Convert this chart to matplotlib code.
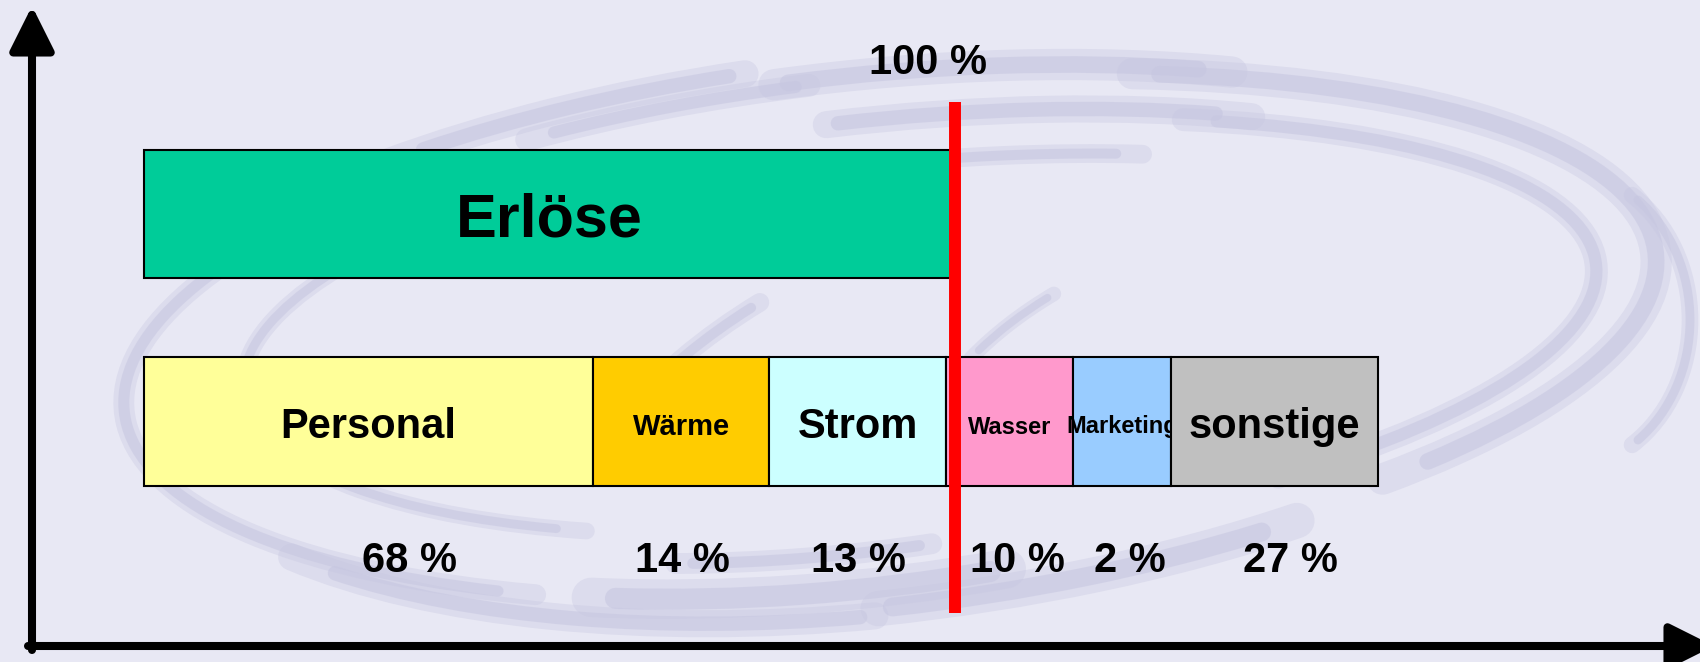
import matplotlib
matplotlib.use('Agg')
import matplotlib.pyplot as plt
from matplotlib.patches import Arc

revenue_label = 'Erlöse'
revenue_value = 100

cost_labels = ['Personal', 'Wärme', 'Strom', 'Wasser', 'Marketing', 'sonstige']
cost_widths = [55.4, 21.7, 21.8, 15.7, 12.0, 25.5]
cost_shares = ['68 %', '14 %', '13 %', '10 %', '2 %', '27 %']

# Layout / Stil
cost_colors = ['#FFFF99', '#FFCC00', '#CCFFFF', '#FF99CC', '#99CCFF', '#C0C0C0']
label_sizes = [30, 21, 30, 17, 17, 30]
share_dx = [41, 1, 1, 8, 8, 16]  # pixel shift of the % labels

FONT = 'Liberation Sans'
BG = '#E8E8F4'
SWIRL = '#C6C6E0'

W, H = 1700, 662
PX_PER_PCT = 8.11
X0 = 144  # pixel position of 0 %

fig = plt.figure(figsize=(W / 100, H / 100), dpi=100)
fig.patch.set_facecolor(BG)

# background layer in pixel coords (swirl + axis arrows)
bg = fig.add_axes([0, 0, 1, 1])
bg.set_xlim(0, W)
bg.set_ylim(H, 0)
bg.axis('off')

swirls = [
    # (cx, cy, w, h, angle, theta1, theta2, lw)
    (870, 330, 1560, 540, -6, 205, 250, 13),
    (870, 330, 1480, 500, -6, 215, 262, 11),
    (870, 335, 1520, 520, -6, 255, 330, 15),
    (880, 340, 1420, 440, -6, 262, 335, 13),
    (880, 345, 1300, 360, -6, 268, 330, 9),
    (880, 335, 1560, 500, -6, 320, 382, 15),
    (880, 340, 1440, 420, -6, 330, 385, 11),
    (850, 340, 1560, 540, -6, 28, 90, 17),
    (840, 340, 1400, 500, -6, 60, 140, 19),
    (830, 335, 1260, 440, -6, 70, 130, 10),
    (870, 335, 1460, 560, -6, 95, 165, 13),
    (900, 330, 1560, 520, -6, 150, 205, 10),
    (870, 325, 1260, 400, -6, 150, 200, 8),
    (1560, 320, 260, 300, 0, 300, 420, 8),
    (900, 420, 700, 340, -25, 205, 245, 9),
    (1150, 390, 500, 260, -25, 215, 250, 7),
]
for cx, cy, w, h, ang, t1, t2, lw in swirls:
    bg.add_patch(Arc((cx, cy), w, h, angle=ang, theta1=t1, theta2=t2,
                     color=SWIRL, lw=lw * 1.5, alpha=0.35, capstyle='round'))
    bg.add_patch(Arc((cx, cy), w, h, angle=ang, theta1=t1 + 3, theta2=t2 - 3,
                     color=SWIRL, lw=lw * 0.8, alpha=0.55, capstyle='round'))

arrow = dict(arrowstyle='-|>,head_length=1.0,head_width=0.5', mutation_scale=27,
             color='black', lw=5.8, shrinkA=0, shrinkB=0)
bg.annotate('', xy=(32, 6), xytext=(32, 650), arrowprops=arrow, annotation_clip=False)
bg.annotate('', xy=(1714, 646), xytext=(28, 646), arrowprops=arrow, annotation_clip=False)

# data layer: x in percent of revenue, y in pixel rows
ax = fig.add_axes([0, 0, 1, 1])
ax.set_xlim(-X0 / PX_PER_PCT, (W - X0) / PX_PER_PCT)
ax.set_ylim(H, 0)
ax.axis('off')
ax.patch.set_alpha(0)

ax.barh(214, revenue_value, left=0, height=128, color='#00CC99',
        edgecolor='black', linewidth=1.5, zorder=2)
ax.text(revenue_value / 2, 221, revenue_label, ha='center', va='center',
        fontsize=44, fontweight='bold', family=FONT, zorder=3)

left = 0
for i, (lab, wd, share, col, fs, dx) in enumerate(zip(cost_labels, cost_widths, cost_shares,
                                                      cost_colors, label_sizes, share_dx)):
    ax.barh(421, wd, left=left, height=129, color=col, edgecolor='black',
            linewidth=1.5, zorder=4 + 2 * i)
    ax.text(left + wd / 2, 427, lab, ha='center', va='center', fontsize=fs,
            fontweight='bold', family=FONT, zorder=5 + 2 * i)
    ax.text(left + wd / 2 + dx / PX_PER_PCT, 561, share, ha='center', va='center',
            fontsize=30, fontweight='bold', family=FONT, zorder=5)
    left += wd

# 100 % Linie
ax.plot([revenue_value, revenue_value], [102, 613], color='#FF0000', lw=8.6,
        solid_capstyle='butt', zorder=30)
ax.text(revenue_value - 3.3, 63, '100 %', ha='center', va='center', fontsize=30,
        fontweight='bold', family=FONT, zorder=30)

fig.savefig('out.png', dpi=100, facecolor=BG)
